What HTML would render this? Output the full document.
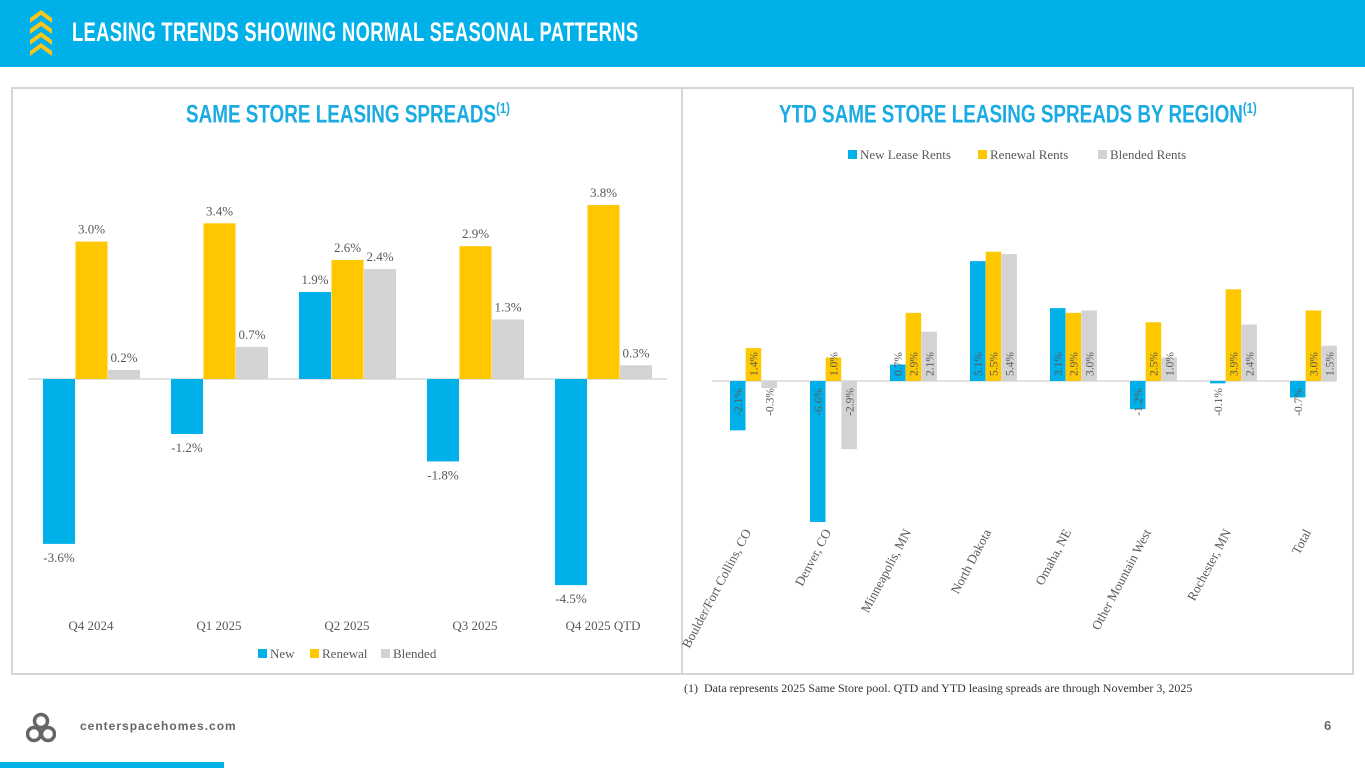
<!DOCTYPE html>
<html><head><meta charset="utf-8"><style>
body{margin:0;width:1365px;height:768px;background:#fff;font-family:"Liberation Sans",sans-serif;overflow:hidden;position:relative}
.hdr{position:absolute;left:0;top:0;width:1365px;height:67px;background:#00b0e8}
.ttl{position:absolute;left:72px;top:17px;color:#fff;font-weight:bold;font-size:27px;transform:scaleX(.68);transform-origin:left;letter-spacing:0.5px;white-space:nowrap}
.panel{position:absolute;top:87px;height:588px;border:2px solid #d6d6d6;box-sizing:border-box}
.ptitle{position:absolute;color:#1aabe2;font-weight:bold;font-size:25px;transform:scaleX(.755);white-space:nowrap}
svg text{font-family:"Liberation Serif",serif}
</style></head><body>
<div class="hdr">
<svg style="position:absolute;left:30px;top:10px" width="22" height="46">
<g fill="#f7c51e"><path d="M0 8 L11 0 L22 8 L22 13 L11 5 L0 13Z"/><path d="M0 19 L11 11 L22 19 L22 24 L11 16 L0 24Z"/><path d="M0 30 L11 22 L22 30 L22 35 L11 27 L0 35Z"/><path d="M0 41 L11 33 L22 41 L22 46 L11 38 L0 46Z"/></g></svg>
<div class="ttl">LEASING TRENDS SHOWING NORMAL SEASONAL PATTERNS</div>
</div>
<div class="panel" style="left:11px;width:672px"></div>
<div class="panel" style="left:681px;width:673px"></div>
<div class="ptitle" style="top:100px;transform-origin:left;left:186px">SAME STORE LEASING SPREADS<sup style="font-size:15px">(1)</sup></div>
<div class="ptitle" style="left:779px;top:100px;transform-origin:left">YTD SAME STORE LEASING SPREADS BY REGION<sup style="font-size:15px">(1)</sup></div>
<svg id="c" width="1365" height="768" style="position:absolute;left:0;top:0"></svg>
<div style="position:absolute;left:684px;top:681px;font-size:12px;color:#333;font-family:'Liberation Serif',serif">(1)&nbsp; Data represents 2025 Same Store pool. QTD and YTD leasing spreads are through November 3, 2025</div>
<svg style="position:absolute;left:26px;top:712px" width="30" height="32"><g fill="none" stroke="#666" stroke-width="3.5"><circle cx="15" cy="9" r="6.5"/><circle cx="8" cy="22" r="6.5"/><circle cx="22" cy="22" r="6.5"/></g></svg>
<div style="position:absolute;left:80px;top:719px;font-size:12px;font-weight:bold;color:#666;letter-spacing:1px">centerspacehomes.com</div>
<div style="position:absolute;left:1324px;top:718px;font-size:13px;font-weight:bold;color:#666">6</div>
<div style="position:absolute;left:0;top:762px;width:224px;height:6px;background:#00b0e8"></div>
<script>
const qCats=["Q4 2024","Q1 2025","Q2 2025","Q3 2025","Q4 2025 QTD"];
const qNew=[-3.6,-1.2,1.9,-1.8,-4.5];
const qRen=[3.0,3.4,2.6,2.9,3.8];
const qBle=[0.2,0.7,2.4,1.3,0.3];
const rCats=["Boulder/Fort Collins, CO","Denver, CO","Minneapolis, MN","North Dakota","Omaha, NE","Other Mountain West","Rochester, MN","Total"];
const rNew=[-2.1,-6.6,0.7,5.1,3.1,-1.2,-0.1,-0.7];
const rRen=[1.4,1.0,2.9,5.5,2.9,2.5,3.9,3.0];
const rBle=[-0.3,-2.9,2.1,5.4,3.0,1.0,2.4,1.5];
const colors=["#00b0e8","#fdc800","#d3d3d3"];
const svg=document.getElementById('c');const NS="http://www.w3.org/2000/svg";
function mk(t,a,txt){const e=document.createElementNS(NS,t);for(const k in a)e.setAttribute(k,a[k]);if(txt!=null)e.textContent=txt;svg.appendChild(e);return e;}
const fmt=v=>v.toFixed(1)+"%";
const L0=379,Lk=45.8;const ly=v=>L0-v*Lk;const lx=i=>91+i*128;
mk('line',{x1:28,x2:667,y1:L0,y2:L0,stroke:'#d9d9d9','stroke-width':1.5});
[qNew,qRen,qBle].forEach((s,si)=>s.forEach((v,i)=>{
 const x=lx(i)-48+si*32.5;const y=Math.min(ly(v),L0);const h=Math.abs(v*Lk);
 const r=mk('rect',{x:x,y:y,width:32,height:h,fill:colors[si]});
 
 
 const t=mk('text',{x:x+16,y:v>=0?ly(v)-8:ly(v)+18,'text-anchor':'middle','font-size':13,fill:'#595959'},fmt(v));
 
 
}));
qCats.forEach((c,i)=>{const t=mk('text',{x:lx(i),y:630,'text-anchor':'middle','font-size':13,fill:'#595959'},c);
 
 });
[["New",258],["Renewal",310],["Blended",381]].forEach((l,i)=>{
 const r=mk('rect',{x:l[1],y:649,width:9,height:9,fill:colors[i]});
 
 
 const t=mk('text',{x:l[1]+12,y:658,'font-size':13,fill:'#595959'},l[0]);
 
 });
const R0=381,Rk=23.5,Rmin=-6;const ry=v=>R0-v*Rk;const rx=i=>753.5+i*80;
mk('line',{x1:712,x2:1336,y1:R0,y2:R0,stroke:'#d9d9d9','stroke-width':1.5});
[rNew,rRen,rBle].forEach((s,si)=>s.forEach((v,i)=>{
 const x=rx(i)-23.5+si*15.7;const vv=Math.max(v,Rmin);const y=Math.min(ry(vv),R0);const h=Math.abs(vv*Rk);
 const r=mk('rect',{x:x,y:y,width:15.5,height:h,fill:colors[si]});
 
 
 const cx=x+12,cy=v>=0?R0-5:R0+7;
 const t=mk('text',{x:cx,y:cy,'text-anchor':v>=0?'start':'end','font-size':11.5,fill:'#595959',transform:`rotate(-90 ${cx} ${cy})`},fmt(v));
 
 
}));
rCats.forEach((c,i)=>{const x=rx(i)-2,y=532;const t=mk('text',{x:x,y:y,'text-anchor':'end','font-size':13,fill:'#595959',transform:`rotate(-62 ${x} ${y})`},c);
 
 });
[["New Lease Rents",848],["Renewal Rents",978],["Blended Rents",1098]].forEach((l,i)=>{
 const r=mk('rect',{x:l[1],y:150,width:9,height:9,fill:colors[i]});
 
 
 const t=mk('text',{x:l[1]+12,y:159,'font-size':13,fill:'#595959'},l[0]);
 
 });
</script>
</body></html>
